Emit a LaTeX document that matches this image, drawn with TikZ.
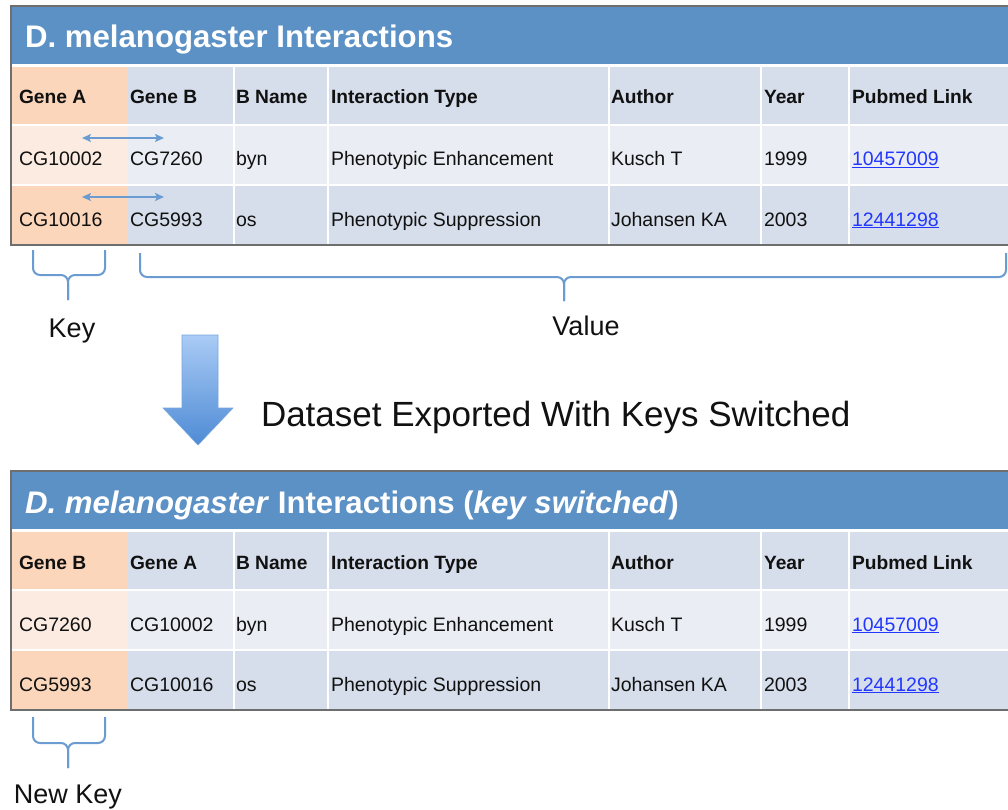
\documentclass[tikz,border=0pt]{standalone}
\usepackage{fontspec}
\setmainfont{Liberation Sans}
\usetikzlibrary{arrows.meta}
\definecolor{titleblue}{RGB}{91,145,197}
\definecolor{peachhdr}{RGB}{251,214,186}
\definecolor{peachlight}{RGB}{251,235,224}
\definecolor{bluegray}{RGB}{214,222,235}
\definecolor{bluelight}{RGB}{234,237,243}
\definecolor{linkblue}{RGB}{35,55,255}
\definecolor{bracecol}{RGB}{106,155,209}
\definecolor{bordercol}{RGB}{110,110,110}
\definecolor{arrowtop}{RGB}{170,203,245}
\definecolor{arrowbot}{RGB}{78,139,213}
\definecolor{arrowedge}{RGB}{120,165,220}
\definecolor{txt}{RGB}{17,17,17}
\newcommand\plink[1]{\textcolor{linkblue}{\underline{#1}}}
\newcommand\drawtable[9]{%
  \fill[titleblue] (11,#2) rectangle (1015,#2+58);
  \fill[peachhdr] (11,#2+61) rectangle (128,#2+119);
  \fill[bluegray] (128,#2+61) rectangle (1015,#2+119);
  \fill[peachlight] (11,#2+119) rectangle (128,#2+179);
  \fill[bluelight] (128,#2+119) rectangle (1015,#2+179);
  \fill[peachhdr] (11,#2+179) rectangle (128,#2+239);
  \fill[bluegray] (128,#2+179) rectangle (1015,#2+239);
  \draw[sepline] (11,#2+119) -- (1015,#2+119);
  \draw[sepline] (11,#2+179) -- (1015,#2+179);
  \draw[sepline] (234,#2+61) -- (234,#2+239);
  \draw[sepline] (328,#2+61) -- (328,#2+239);
  \draw[sepline] (609,#2+61) -- (609,#2+239);
  \draw[sepline] (761,#2+61) -- (761,#2+239);
  \draw[sepline] (849,#2+61) -- (849,#2+239);
  \draw[outerline] (11,#2) rectangle (1015,#2+239);
  \node[titletext] (#1title) at (25,#2+42) {#3};
  \node[hdr] (#1h1) at (19,#2+98) {#4};
  \node[hdr] (#1h2) at (130,#2+98) {#5};
  \node[hdr] (#1h3) at (236,#2+98) {B Name};
  \node[hdr] (#1h4) at (331,#2+98) {Interaction Type};
  \node[hdr] (#1h5) at (611,#2+98) {Author};
  \node[hdr] (#1h6) at (764,#2+98) {Year};
  \node[hdr] (#1h7) at (852,#2+98) {Pubmed Link};
  \node[cell] (#1a1) at (19,#2+160) {#6};
  \node[cell] (#1a2) at (130,#2+160) {#7};
  \node[cell] (#1a3) at (236,#2+160) {byn};
  \node[cell] (#1a4) at (331,#2+160) {Phenotypic Enhancement};
  \node[cell] (#1a5) at (611,#2+160) {Kusch T};
  \node[cell] (#1a6) at (764,#2+160) {1999};
  \node[cell] (#1a7) at (852,#2+160) {\plink{10457009}};
  \node[cell] (#1b1) at (19,#2+220) {#8};
  \node[cell] (#1b2) at (130,#2+220) {#9};
  \node[cell] (#1b3) at (236,#2+220) {os};
  \node[cell] (#1b4) at (331,#2+220) {Phenotypic Suppression};
  \node[cell] (#1b5) at (611,#2+220) {Johansen KA};
  \node[cell] (#1b6) at (764,#2+220) {2003};
  \node[cell] (#1b7) at (852,#2+220) {\plink{12441298}};
}
\begin{document}
\begin{tikzpicture}[x=1pt,y=-1pt,
  every node/.style={inner sep=0pt,outer sep=0pt,anchor=base west,text=txt},
  titletext/.style={text=white,font=\fontsize{31.2}{34}\selectfont\bfseries},
  hdr/.style={font=\fontsize{19.2}{22}\selectfont\bfseries},
  cell/.style={font=\fontsize{19.5}{22}\selectfont},
  lbl/.style={font=\fontsize{27}{30}\selectfont,anchor=base},
  sepline/.style={white,line width=1.4pt},
  outerline/.style={bordercol,line width=1.2pt},
  bracepath/.style={bracecol,line width=2pt,rounded corners=7pt},
  swaparrow/.style={bracecol,line width=2pt,{Stealth[length=9pt,width=8pt,inset=2pt]}-{Stealth[length=9pt,width=8pt,inset=2pt]}}]
\useasboundingbox (0,0) rectangle (1008,810);
\fill[white] (0,0) rectangle (1008,810);
\clip (0,0) rectangle (1008,810);

\drawtable{t}{6}{D. melanogaster Interactions}{Gene A}{Gene B}{CG10002}{CG7260}{CG10016}{CG5993}

\coordinate (s1a) at (82,138);
\coordinate (s1b) at (164,138);
\coordinate (s2a) at (82,197);
\coordinate (s2b) at (164,197);
\draw[swaparrow] (s1a) -- (s1b);
\draw[swaparrow] (s2a) -- (s2b);

% braces top
\draw[bracepath] (33,250) -- (33,275) -- (68,275) -- (68,300);
\draw[bracepath] (105,250) -- (105,275) -- (68,275) -- (68,300);
\draw[bracepath] (140,253) -- (140,277) -- (564,277) -- (564,301);
\draw[bracepath] (1006,253) -- (1006,277) -- (564,277) -- (564,301);
\node[lbl] (key) at (72,337) {Key};
\node[lbl] (value) at (586,335) {Value};

% big arrow
\shade[top color=arrowtop,bottom color=arrowbot,draw=arrowedge,line width=0.6pt]
  (182,335) -- (218,335) -- (218,408) -- (233,408) -- (198,445) -- (163,408) -- (182,408) -- cycle;
\node[font=\fontsize{35}{38}\selectfont] (export) at (261,426) {Dataset Exported With Keys Switched};

\drawtable{u}{471}{\textit{D. melanogaster} Interactions (\textit{key switched})}{Gene B}{Gene A}{CG7260}{CG10002}{CG5993}{CG10016}

\draw[bracepath] (33,717) -- (33,743) -- (68,743) -- (68,768);
\draw[bracepath] (105,717) -- (105,743) -- (68,743) -- (68,768);
\node[lbl] (newkey) at (68,803) {New Key};
\end{tikzpicture}
\end{document}
